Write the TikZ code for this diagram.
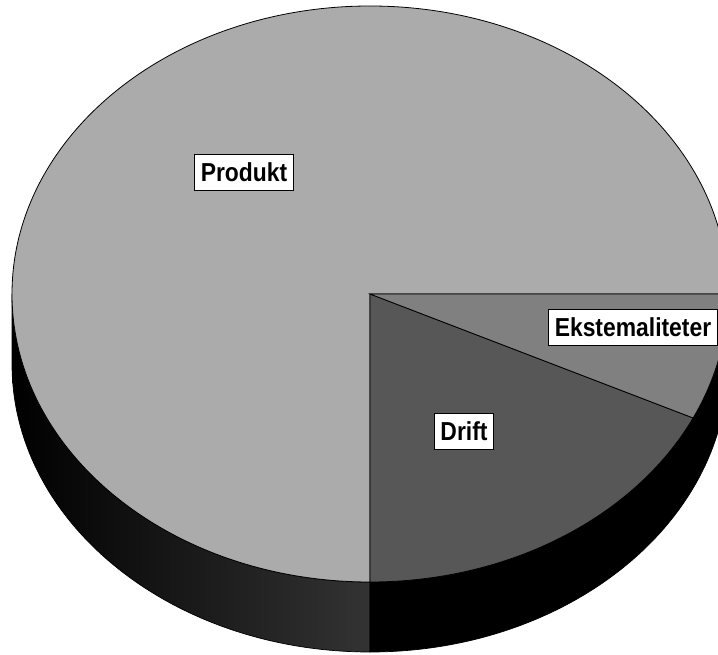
\documentclass[tikz,border=0pt]{standalone}
\usepackage{fontspec}
\setmainfont{Liberation Sans}
\newfontfamily\lblfont{Liberation Sans}[FakeStretch=0.88]
\usetikzlibrary{calc}
\begin{document}
\begin{tikzpicture}[x=1pt,y=1pt,
  wedge/.style={draw=black,line width=0.8pt},
  sidepart/.style={draw=black,line width=0.7pt},
  pie/.style={x radius=358pt,y radius=288pt},
  lbl/.style={draw=black,fill=white,line width=0.8pt,
    font=\lblfont\fontsize{26}{28}\selectfont\bfseries,
    inner xsep=6pt,minimum height=36pt}]
\useasboundingbox (0,0) rectangle (718,654);
\coordinate (c) at (370,360);
\coordinate (cb) at (370,290);
% side (depth)
\path[sidepart,left color=black,right color=black!80]
  ($(c)+(180:358pt and 288pt)$)
  arc[pie,start angle=180,end angle=270]
  -- ($(cb)+(270:358pt and 288pt)$)
  arc[pie,start angle=270,end angle=180]
  -- cycle;
\path[sidepart,fill=black]
  ($(c)+(270:358pt and 288pt)$)
  arc[pie,start angle=270,end angle=360]
  -- ($(cb)+(0:358pt and 288pt)$)
  arc[pie,start angle=360,end angle=270]
  -- cycle;
% top face wedges
\path[wedge,fill=black!33]
  (c) -- ($(c)+(0:358pt and 288pt)$)
  arc[pie,start angle=0,end angle=270]
  -- cycle;
\path[wedge,fill=black!66]
  (c) -- ($(c)+(270:358pt and 288pt)$)
  arc[pie,start angle=270,end angle=334.5]
  -- cycle;
\path[wedge,fill=black!50]
  (c) -- ($(c)+(334.5:358pt and 288pt)$)
  arc[pie,start angle=334.5,end angle=360]
  -- cycle;
% labels
\node[lbl] (produkt) at (244,482) {Produkt};
\node[lbl] (drift) at (464,223) {Drift};
\node[lbl] (ekst) at (633,327) {Ekstemaliteter};
\end{tikzpicture}
\end{document}
